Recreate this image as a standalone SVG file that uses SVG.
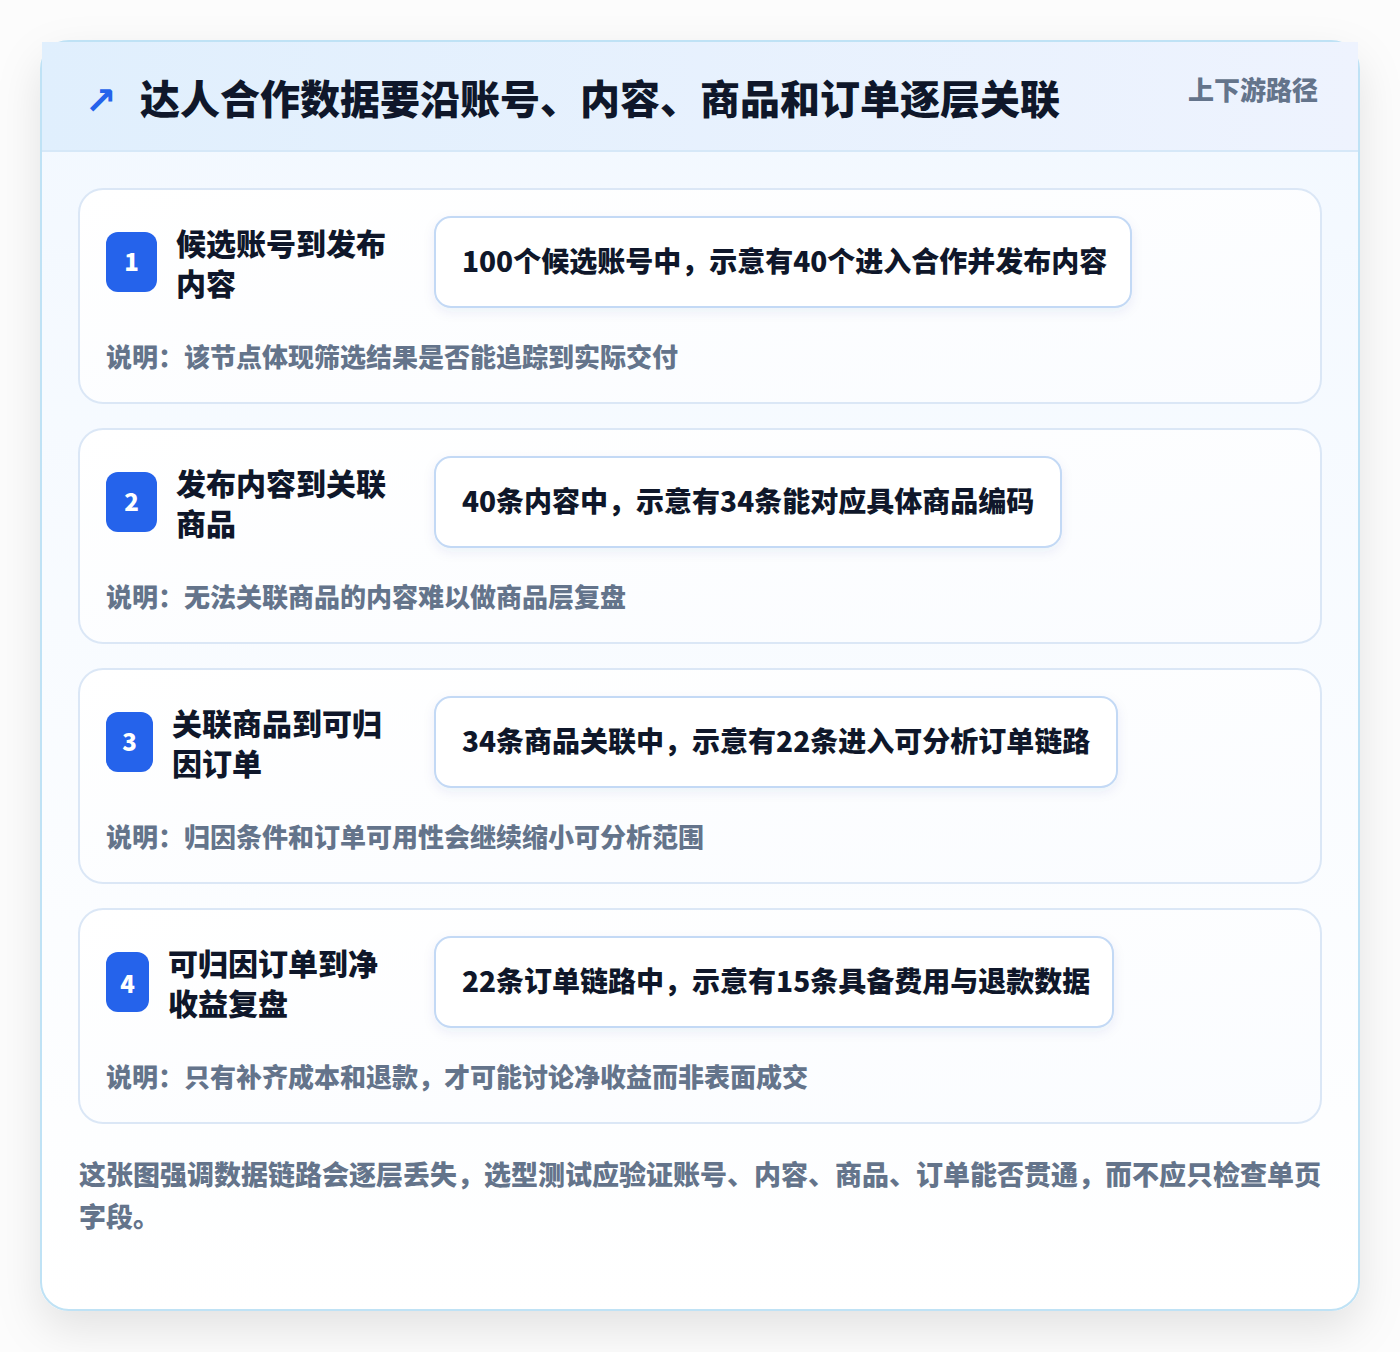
<svg xmlns="http://www.w3.org/2000/svg" width="1400" height="1352" viewBox="0 0 1400 1352">
<defs>
<filter id="frameShadow" x="-10%" y="-10%" width="120%" height="125%">
<feDropShadow dx="0" dy="18" stdDeviation="22" flood-color="#000000" flood-opacity="0.10"/>
</filter>
<filter id="boxShadow" x="-10%" y="-30%" width="120%" height="160%">
<feDropShadow dx="0" dy="4" stdDeviation="6" flood-color="#1e3a8a" flood-opacity="0.07"/>
</filter>
<linearGradient id="headGrad" x1="0" y1="0" x2="1" y2="0">
<stop offset="0" stop-color="#e0effd"/>
<stop offset="1" stop-color="#eef3fe"/>
</linearGradient>
<linearGradient id="frameGrad" x1="0" y1="0" x2="0" y2="1">
<stop offset="0" stop-color="#f2f8ff"/>
<stop offset="1" stop-color="#ffffff"/>
</linearGradient>
<linearGradient id="cardGrad" x1="0" y1="0" x2="1" y2="1">
<stop offset="0" stop-color="#ffffff"/>
<stop offset="1" stop-color="#fafcff"/>
</linearGradient>
<style>
.cjk{font-family:"Noto Sans CJK SC","Noto Sans",sans-serif;font-weight:900}
.title{font-size:40px;fill:#0f172a}
.tag{font-size:26px;fill:#64748b}
.card{fill:url(#cardGrad);stroke:#dbe7f6;stroke-width:2}
.badge{fill:#2563eb}
.num{font-size:24px;fill:#ffffff;text-anchor:middle}
.ctitle{font-size:30px;fill:#0f172a}
.vbox{fill:#ffffff;stroke:#c3d9f5;stroke-width:2}
.vtext{font-size:28px;fill:#0f172a}
.desc{font-size:26px;fill:#64748b}
.foot{font-size:27px;fill:#64748b}
</style>
</defs>
<rect x="0" y="0" width="1400" height="1352" fill="#fcfcfc"/>
<g id="frame">
<rect x="41" y="41" width="1318" height="1269" rx="28" fill="url(#frameGrad)" stroke="#bfe2f5" stroke-width="2" filter="url(#frameShadow)"/>
</g>
<g id="header">
<rect x="42" y="42" width="1316" height="109" fill="url(#headGrad)"/>
<line x1="42" y1="151" x2="1358" y2="151" stroke="#d6e8f8" stroke-width="2"/>
<text x="85" y="114" font-family="DejaVu Sans, sans-serif" font-size="38" fill="#2563eb" font-weight="700">↗</text>
<text class="cjk title" x="140" y="114">达人合作数据要沿账号、内容、商品和订单逐层关联</text>
<text class="cjk tag" x="1318" y="100" text-anchor="end">上下游路径</text>
</g>
<g id="connectors"></g>
<g id="node1">
<rect class="card" x="79" y="189" width="1242" height="214" rx="24"/>
<rect class="badge" x="106" y="232" width="51" height="60" rx="12"/>
<text class="cjk num" x="131.5" y="271">1</text>
<text class="cjk ctitle" x="176" y="255">候选账号到发布</text>
<text class="cjk ctitle" x="176" y="295">内容</text>
<rect class="vbox" x="435" y="217" width="696" height="90" rx="16" filter="url(#boxShadow)"/>
<text class="cjk vtext" x="462" y="272">100个候选账号中，示意有40个进入合作并发布内容</text>
<text class="cjk desc" x="106" y="367">说明：该节点体现筛选结果是否能追踪到实际交付</text>
</g>
<g id="node2">
<rect class="card" x="79" y="429" width="1242" height="214" rx="24"/>
<rect class="badge" x="106" y="472" width="51" height="60" rx="12"/>
<text class="cjk num" x="131.5" y="511">2</text>
<text class="cjk ctitle" x="176" y="495">发布内容到关联</text>
<text class="cjk ctitle" x="176" y="535">商品</text>
<rect class="vbox" x="435" y="457" width="626" height="90" rx="16" filter="url(#boxShadow)"/>
<text class="cjk vtext" x="462" y="512">40条内容中，示意有34条能对应具体商品编码</text>
<text class="cjk desc" x="106" y="607">说明：无法关联商品的内容难以做商品层复盘</text>
</g>
<g id="node3">
<rect class="card" x="79" y="669" width="1242" height="214" rx="24"/>
<rect class="badge" x="106" y="712" width="47" height="60" rx="12"/>
<text class="cjk num" x="129.5" y="751">3</text>
<text class="cjk ctitle" x="172" y="735">关联商品到可归</text>
<text class="cjk ctitle" x="172" y="775">因订单</text>
<rect class="vbox" x="435" y="697" width="682" height="90" rx="16" filter="url(#boxShadow)"/>
<text class="cjk vtext" x="462" y="752">34条商品关联中，示意有22条进入可分析订单链路</text>
<text class="cjk desc" x="106" y="847">说明：归因条件和订单可用性会继续缩小可分析范围</text>
</g>
<g id="node4">
<rect class="card" x="79" y="909" width="1242" height="214" rx="24"/>
<rect class="badge" x="106" y="952" width="43" height="60" rx="12"/>
<text class="cjk num" x="127.5" y="993">4</text>
<text class="cjk ctitle" x="168" y="975">可归因订单到净</text>
<text class="cjk ctitle" x="168" y="1015">收益复盘</text>
<rect class="vbox" x="435" y="937" width="678" height="90" rx="16" filter="url(#boxShadow)"/>
<text class="cjk vtext" x="462" y="992">22条订单链路中，示意有15条具备费用与退款数据</text>
<text class="cjk desc" x="106" y="1087">说明：只有补齐成本和退款，才可能讨论净收益而非表面成交</text>
</g>
<g id="footer">
<text class="cjk foot" x="79" y="1185">这张图强调数据链路会逐层丢失，选型测试应验证账号、内容、商品、订单能否贯通，而不应只检查单页</text>
<text class="cjk foot" x="79" y="1227">字段。</text>
</g>
</svg>
